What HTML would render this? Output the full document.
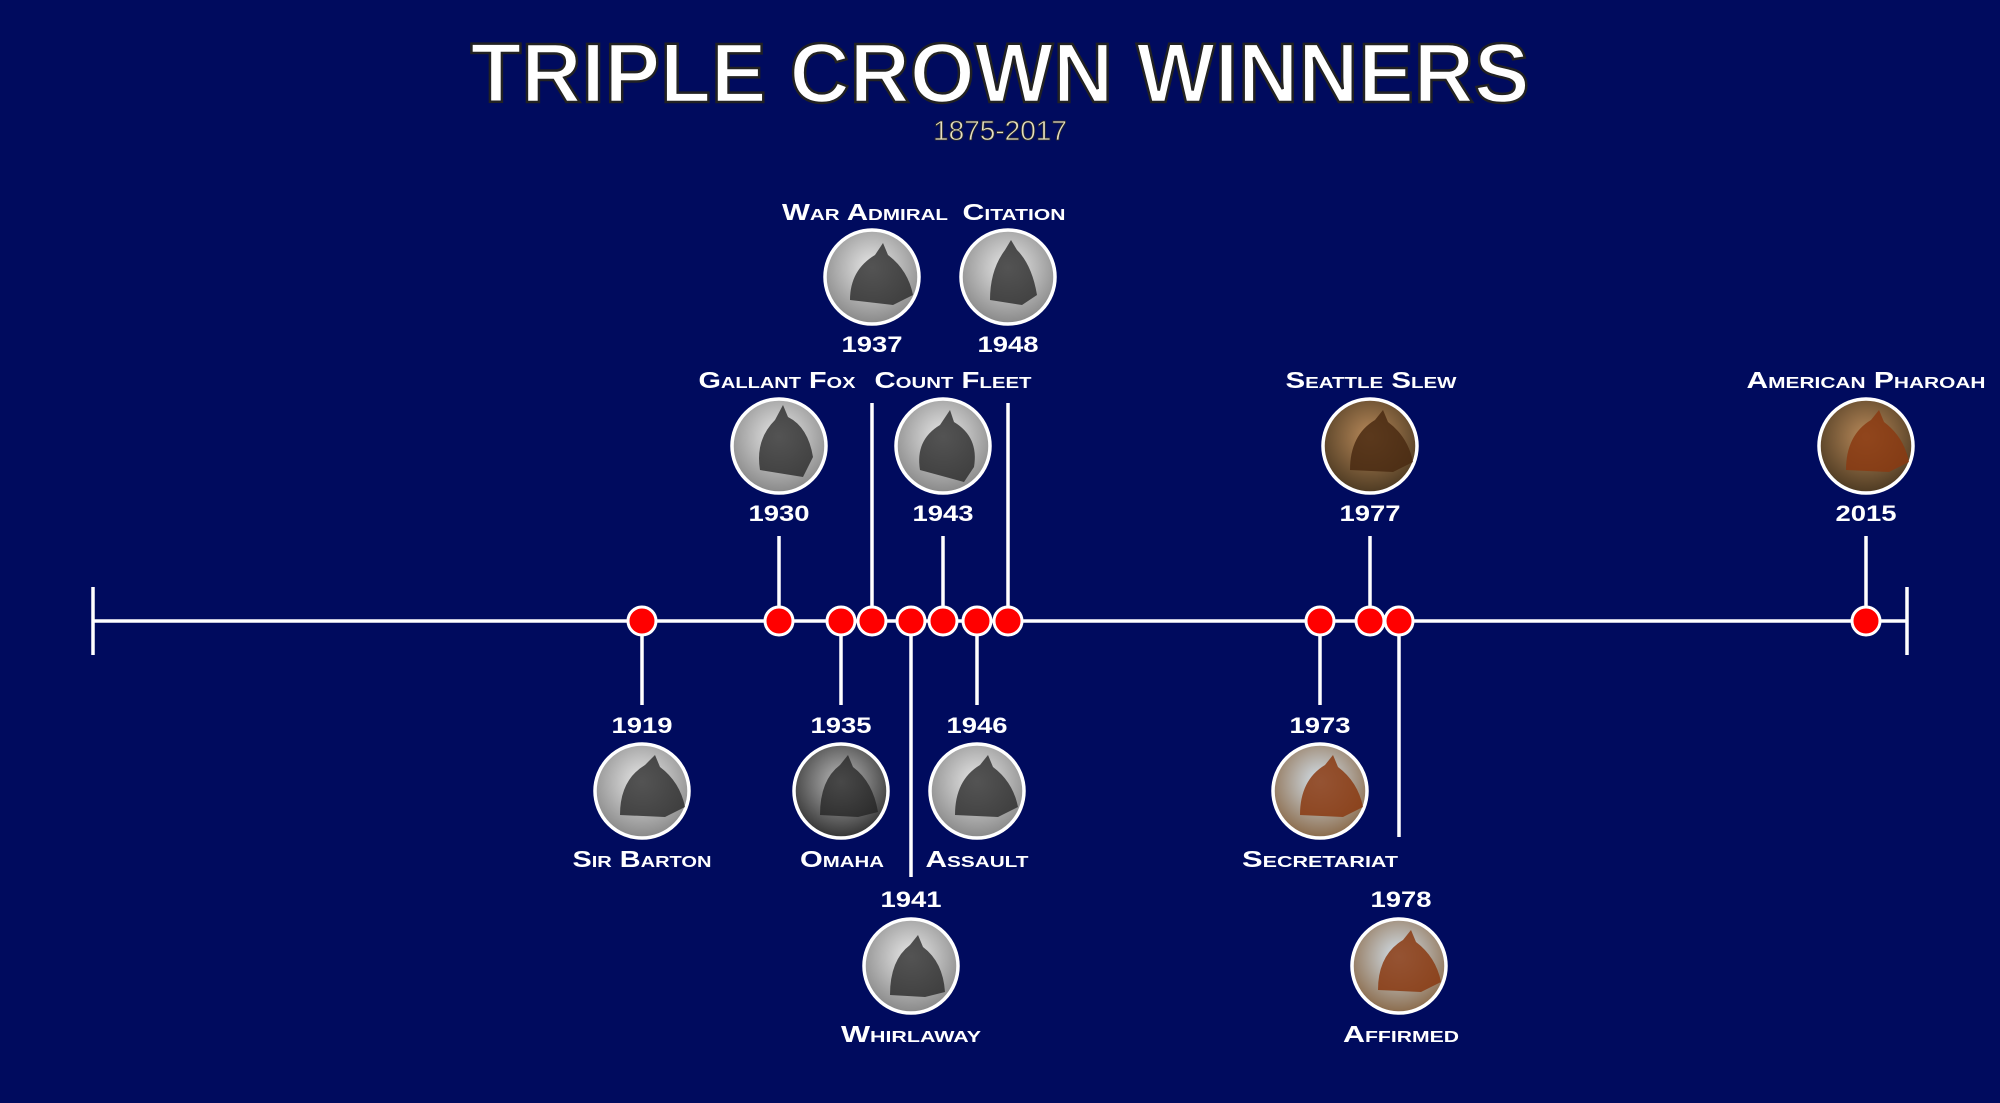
<!DOCTYPE html>
<html><head><meta charset="utf-8"><style>
html,body{margin:0;padding:0;background:#000b5e;}
svg{display:block}
.n{font-family:"Liberation Sans",sans-serif;font-weight:bold;font-variant:small-caps;fill:#fff;font-size:23px;text-anchor:middle}
.y{font-family:"Liberation Sans",sans-serif;font-weight:bold;fill:#fff;font-size:22px;text-anchor:middle}
</style></head><body>
<svg width="2000" height="1103" viewBox="0 0 2000 1103" xmlns="http://www.w3.org/2000/svg">
<defs>
<radialGradient id="g" cx="50%" cy="40%" r="60%"><stop offset="0" stop-color="#e8e8e8"/><stop offset="1" stop-color="#888"/></radialGradient>
<radialGradient id="d" cx="50%" cy="40%" r="60%"><stop offset="0" stop-color="#bbb"/><stop offset="1" stop-color="#333"/></radialGradient>
<radialGradient id="b" cx="50%" cy="40%" r="60%"><stop offset="0" stop-color="#b98a5a"/><stop offset="1" stop-color="#4d3a22"/></radialGradient>
<radialGradient id="c" cx="50%" cy="40%" r="60%"><stop offset="0" stop-color="#d5e3ee"/><stop offset="1" stop-color="#8a6a4a"/></radialGradient>
</defs>
<rect width="2000" height="1103" fill="#000b5e"/>
<text x="1000" y="102" textLength="1059" lengthAdjust="spacingAndGlyphs" font-family="Liberation Sans,sans-serif" font-weight="bold" font-size="84" fill="#fff" stroke="#222" stroke-width="2.5" text-anchor="middle">TRIPLE CROWN WINNERS</text>
<text x="1000" y="140" font-family="Liberation Sans,sans-serif" font-size="28" fill="#e6dfc0" stroke="#2a2a2a" stroke-width="0.8" text-anchor="middle">1875-2017</text>

<g stroke="#fff" stroke-width="3.5" fill="none">
<line x1="93" y1="621" x2="1907" y2="621"/>
<line x1="93" y1="587" x2="93" y2="655"/>
<line x1="1907" y1="587" x2="1907" y2="655"/>
<line x1="779" y1="536" x2="779" y2="621"/>
<line x1="943" y1="536" x2="943" y2="621"/>
<line x1="872" y1="403" x2="872" y2="621"/>
<line x1="1008" y1="403" x2="1008" y2="621"/>
<line x1="1370" y1="536" x2="1370" y2="621"/>
<line x1="1866" y1="536" x2="1866" y2="621"/>
<line x1="642" y1="621" x2="642" y2="705"/>
<line x1="841" y1="621" x2="841" y2="705"/>
<line x1="977" y1="621" x2="977" y2="705"/>
<line x1="1320" y1="621" x2="1320" y2="705"/>
<line x1="911" y1="621" x2="911" y2="877"/>
<line x1="1399" y1="621" x2="1399" y2="837"/>
</g>

<g fill="#f00" stroke="#fff" stroke-width="3">
<circle cx="642" cy="621" r="14"/><circle cx="779" cy="621" r="14"/><circle cx="841" cy="621" r="14"/>
<circle cx="872" cy="621" r="14"/><circle cx="911" cy="621" r="14"/><circle cx="943" cy="621" r="14"/>
<circle cx="977" cy="621" r="14"/><circle cx="1008" cy="621" r="14"/><circle cx="1320" cy="621" r="14"/>
<circle cx="1370" cy="621" r="14"/><circle cx="1399" cy="621" r="14"/><circle cx="1866" cy="621" r="14"/>
</g>

<g stroke="#fff" stroke-width="3.5">
<circle cx="779" cy="446" r="47" fill="url(#g)"/>
<circle cx="943" cy="446" r="47" fill="url(#g)"/>
<circle cx="872" cy="277" r="47" fill="url(#g)"/>
<circle cx="1008" cy="277" r="47" fill="url(#g)"/>
<circle cx="1370" cy="446" r="47" fill="url(#b)"/>
<circle cx="1866" cy="446" r="47" fill="url(#b)"/>
<circle cx="642" cy="791" r="47" fill="url(#g)"/>
<circle cx="841" cy="791" r="47" fill="url(#d)"/>
<circle cx="977" cy="791" r="47" fill="url(#g)"/>
<circle cx="1320" cy="791" r="47" fill="url(#c)"/>
<circle cx="911" cy="966" r="47" fill="url(#g)"/>
<circle cx="1399" cy="966" r="47" fill="url(#c)"/>
</g>
<g fill="#222" opacity="0.75">
<path d="M760 470 q-5 -30 15 -50 l8 -15 l5 12 q20 10 25 40 l-10 20 z"/>
<path d="M920 470 q-5 -30 20 -45 l10 -15 l4 12 q25 15 20 45 l-10 15 z"/>
<path d="M850 300 q0 -30 25 -45 l8 -12 l5 12 q20 15 25 40 l-20 10 z"/>
<path d="M990 300 q0 -30 15 -50 l6 -10 l6 10 q15 15 20 45 l-15 10 z"/>
<path d="M620 815 q0 -35 25 -50 l10 -10 l5 12 q20 15 25 40 l-20 10 z"/>
<path d="M820 815 q0 -35 20 -50 l8 -10 l5 12 q20 15 25 45 l-20 5 z"/>
<path d="M955 815 q0 -35 25 -50 l8 -10 l5 12 q20 15 25 40 l-20 10 z"/>
<path d="M890 995 q0 -35 20 -50 l8 -10 l5 12 q20 15 22 45 l-20 5 z"/>
</g>
<g fill="#8a3a12" opacity="0.85">
<path d="M1300 815 q0 -35 25 -50 l8 -10 l5 12 q20 15 25 40 l-20 10 z"/>
<path d="M1378 990 q0 -35 25 -50 l8 -10 l5 12 q20 15 25 40 l-20 10 z"/>
<path d="M1350 470 q0 -35 25 -50 l8 -10 l5 12 q20 15 25 40 l-20 10 z" fill="#4a2a12"/>
<path d="M1846 470 q0 -35 25 -50 l8 -10 l5 12 q20 15 25 40 l-20 10 z"/>
</g>

<text class="n" x="777" y="388" textLength="157" lengthAdjust="spacingAndGlyphs">Gallant Fox</text>
<text class="n" x="953" y="388" textLength="157" lengthAdjust="spacingAndGlyphs">Count Fleet</text>
<text class="n" x="865" y="220" textLength="166" lengthAdjust="spacingAndGlyphs">War Admiral</text>
<text class="n" x="1014" y="220" textLength="103" lengthAdjust="spacingAndGlyphs">Citation</text>
<text class="n" x="1371" y="388" textLength="171" lengthAdjust="spacingAndGlyphs">Seattle Slew</text>
<text class="n" x="1866" y="388" textLength="239" lengthAdjust="spacingAndGlyphs">American Pharoah</text>
<text class="n" x="642" y="867" textLength="139" lengthAdjust="spacingAndGlyphs">Sir Barton</text>
<text class="n" x="842" y="867" textLength="84" lengthAdjust="spacingAndGlyphs">Omaha</text>
<text class="n" x="977" y="867" textLength="103" lengthAdjust="spacingAndGlyphs">Assault</text>
<text class="n" x="1320" y="867" textLength="156" lengthAdjust="spacingAndGlyphs">Secretariat</text>
<text class="n" x="911" y="1042" textLength="140" lengthAdjust="spacingAndGlyphs">Whirlaway</text>
<text class="n" x="1401" y="1042" textLength="116" lengthAdjust="spacingAndGlyphs">Affirmed</text>

<g class="y">
<text class="y" x="779" y="521" textLength="61" lengthAdjust="spacingAndGlyphs">1930</text>
<text class="y" x="943" y="521" textLength="61" lengthAdjust="spacingAndGlyphs">1943</text>
<text class="y" x="872" y="352" textLength="61" lengthAdjust="spacingAndGlyphs">1937</text>
<text class="y" x="1008" y="352" textLength="61" lengthAdjust="spacingAndGlyphs">1948</text>
<text class="y" x="1370" y="521" textLength="61" lengthAdjust="spacingAndGlyphs">1977</text>
<text class="y" x="1866" y="521" textLength="61" lengthAdjust="spacingAndGlyphs">2015</text>
<text class="y" x="642" y="733" textLength="61" lengthAdjust="spacingAndGlyphs">1919</text>
<text class="y" x="841" y="733" textLength="61" lengthAdjust="spacingAndGlyphs">1935</text>
<text class="y" x="977" y="733" textLength="61" lengthAdjust="spacingAndGlyphs">1946</text>
<text class="y" x="1320" y="733" textLength="61" lengthAdjust="spacingAndGlyphs">1973</text>
<text class="y" x="911" y="907" textLength="61" lengthAdjust="spacingAndGlyphs">1941</text>
<text class="y" x="1401" y="907" textLength="61" lengthAdjust="spacingAndGlyphs">1978</text>
</g>
</svg>
</body></html>
